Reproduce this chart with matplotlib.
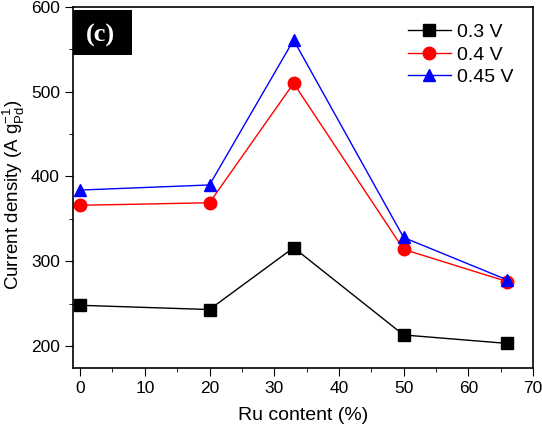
import numpy as np
import matplotlib.pyplot as plt
from matplotlib.patches import Rectangle

plt.rcParams['font.family'] = ['Liberation Sans', 'DejaVu Sans']

ru = [0, 20, 33, 50, 66]
v030 = [248, 243, 316, 213, 203]
v040 = [366, 369, 510, 314, 276]
v045 = [384, 390, 561, 328, 278]

fig = plt.figure(figsize=(5.42, 4.26), dpi=100)
ax = fig.add_axes([73/542, 1-368/426, 460/542, 361/426])

ax.plot(ru, v030, color='black', marker='s', markersize=8, linewidth=1, label='0.3 V')
ax.plot(ru, v040, color='red', marker='o', markersize=9, linewidth=1, label='0.4 V')
ax.plot(ru, v045, color='blue', marker='^', markersize=9, linewidth=1, label='0.45 V')

ax.set_xlim(-1.1, 70)
ax.set_ylim(174, 600)
ax.set_xticks(np.arange(0, 71, 10))
ax.set_xticks(np.arange(5, 70, 10), minor=True)
ax.set_yticks([200, 300, 400, 500, 600])
ax.set_yticks([250, 350, 450, 550], minor=True)
ax.tick_params(which='both', direction='out', labelsize=12.5, top=False, right=False)
ax.tick_params(which='major', length=6)
ax.tick_params(which='minor', length=3)
for s in ax.spines.values():
    s.set_linewidth(1.2)

ax.set_xlabel('Ru content (%)', fontsize=14, labelpad=8)
ax.set_ylabel(r'Current density (A g$_{\mathregular{Pd}}^{\mathregular{-1}}$)', fontsize=13.5)
ax.yaxis.set_label_coords(-0.1, 0.48)

ax.legend(loc='upper right', bbox_to_anchor=(0.995, 1.003), frameon=False, fontsize=14,
          handlelength=2.2, handletextpad=0.3, labelspacing=0.25, borderpad=0.4)

ax.add_patch(Rectangle((0, 0.867), 0.128, 0.125, transform=ax.transAxes,
                       facecolor='black', edgecolor='none', zorder=5))
ax.text(0.06, 0.92, '(c)', transform=ax.transAxes, ha='center', va='center',
        fontsize=19, fontweight='bold', color='white', family='Liberation Serif', zorder=6)

fig.savefig('out.png', dpi=100)
